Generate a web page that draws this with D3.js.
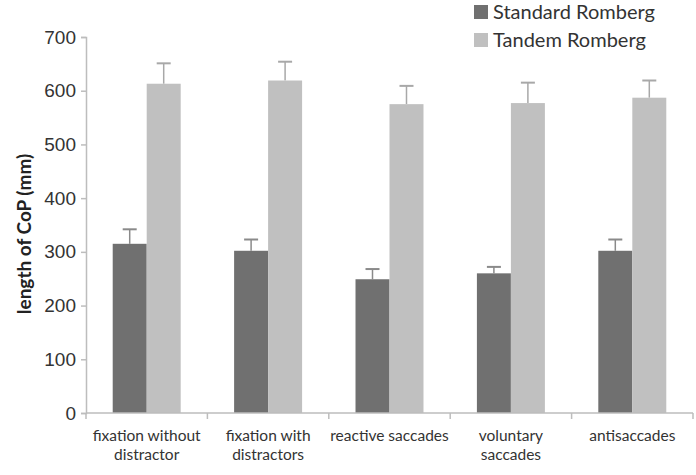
<!DOCTYPE html>
<html>
<head>
<meta charset="utf-8">
<script src="https://cdn.jsdelivr.net/npm/d3@7"></script>
<style>
  body { margin: 0; background: #fff; }
  svg { display: block; font-family: Lato, "Open Sans", sans-serif; }
</style>
</head>
<body>
<div id="chart"></div>
<script>
// categories (label lines) and the two series
var categories = [
    ["fixation without", "distractor"],
    ["fixation with", "distractors"],
    ["reactive saccades"],
    ["voluntary", "saccades"],
    ["antisaccades"]
];
var seriesNames = ["Standard Romberg", "Tandem Romberg"];
var standardValues = [315, 302, 249, 260, 302];
var standardErrors = [27, 21, 19, 12, 21];
var tandemValues = [613, 619, 575, 577, 587];
var tandemErrors = [38, 35, 34, 38, 32];
var yTicks = [0, 100, 200, 300, 400, 500, 600, 700];

var colors = ["#707070", "#c0c0c0"];
var errColors = ["#8a8a8a", "#a8a8a8"];

// set the dimensions and margins of the graph
var width = 696, height = 475;
var margin = { top: 37, right: 3, bottom: 62, left: 86 };

var svg = d3.select("#chart")
    .append("svg")
    .attr("width", width)
    .attr("height", height);

var g = svg.append("g")
    .attr("transform", "translate(" + margin.left + "," + margin.top + ")");

var w = width - margin.left - margin.right,
    h = height - margin.top - margin.bottom;

var idx = d3.range(categories.length);

// X scales
var x0 = d3.scaleBand().domain(idx).range([0, w]).padding(0);
var x1 = d3.scaleBand().domain([0, 1])
    .range([x0.bandwidth() * 0.22, x0.bandwidth() * 0.78]);

// Y scale
var y = d3.scaleLinear().domain([0, 700]).range([h, 0]);

// Y axis
var yAxis = g.append("g")
    .call(d3.axisLeft(y).tickValues(yTicks).tickSize(5).tickPadding(5));
yAxis.select(".domain").attr("stroke", "#bdbdbd").attr("stroke-width", 1.5);
yAxis.selectAll(".tick line").attr("stroke", "#bdbdbd").attr("stroke-width", 1.5);
yAxis.selectAll(".tick text")
    .attr("fill", "#333")
    .style("font-size", "19px");

// bars
var rows = idx.map(function (i) {
    return [
        { s: 0, i: i, v: standardValues[i], e: standardErrors[i] },
        { s: 1, i: i, v: tandemValues[i], e: tandemErrors[i] }
    ];
});

var groups = g.selectAll(".grp")
    .data(rows)
    .enter()
    .append("g")
    .attr("transform", function (d, i) { return "translate(" + x0(i) + ",0)"; });

// error bars (drawn first, bar covers the lower half)
groups.selectAll(".err")
    .data(function (d) { return d; })
    .enter()
    .append("line")
    .attr("x1", function (d) { return x1(d.s) + x1.bandwidth() / 2; })
    .attr("x2", function (d) { return x1(d.s) + x1.bandwidth() / 2; })
    .attr("y1", function (d) { return y(d.v); })
    .attr("y2", function (d) { return y(d.v + d.e); })
    .attr("stroke", function (d) { return errColors[d.s]; })
    .attr("stroke-width", 1.5);

groups.selectAll(".cap")
    .data(function (d) { return d; })
    .enter()
    .append("line")
    .attr("x1", function (d) { return x1(d.s) + x1.bandwidth() / 2 - 7; })
    .attr("x2", function (d) { return x1(d.s) + x1.bandwidth() / 2 + 7; })
    .attr("y1", function (d) { return y(d.v + d.e); })
    .attr("y2", function (d) { return y(d.v + d.e); })
    .attr("stroke", function (d) { return errColors[d.s]; })
    .attr("stroke-width", 2);

groups.selectAll("rect")
    .data(function (d) { return d; })
    .enter()
    .append("rect")
    .attr("x", function (d) { return x1(d.s); })
    .attr("y", function (d) { return y(d.v); })
    .attr("width", x1.bandwidth())
    .attr("height", function (d) { return h - y(d.v); })
    .attr("fill", function (d) { return colors[d.s]; });

// X axis
var xAxis = g.append("g")
    .attr("transform", "translate(0," + h + ")");
xAxis.append("line")
    .attr("x1", 0).attr("x2", w)
    .attr("stroke", "#bdbdbd").attr("stroke-width", 1.5);
xAxis.selectAll(".xt")
    .data(d3.range(categories.length + 1))
    .enter()
    .append("line")
    .attr("x1", function (d) { return d * x0.step(); })
    .attr("x2", function (d) { return d * x0.step(); })
    .attr("y1", 0).attr("y2", 6)
    .attr("stroke", "#bdbdbd").attr("stroke-width", 1.5);

xAxis.selectAll(".xl")
    .data(idx)
    .enter()
    .append("text")
    .attr("x", function (i) { return x0(i) + x0.bandwidth() / 2; })
    .attr("y", 28)
    .attr("text-anchor", "middle")
    .attr("fill", "#333")
    .style("font-size", "15.5px")
    .selectAll("tspan")
    .data(function (i) { return categories[i]; })
    .enter()
    .append("tspan")
    .attr("x", function () { return d3.select(this.parentNode).attr("x"); })
    .attr("dy", function (d, k) { return k === 0 ? 0 : 19; })
    .text(function (d) { return d; });

// Y title
svg.append("text")
    .attr("transform", "translate(31," + (margin.top + h / 2 + 9) + ") rotate(-90)")
    .attr("text-anchor", "middle")
    .attr("fill", "#222")
    .style("font-size", "19px")
    .style("font-weight", "bold")
    .text("length of CoP (mm)");

// legend
var legend = svg.append("g")
    .attr("transform", "translate(474,5)");
var li = legend.selectAll(".li")
    .data(seriesNames)
    .enter()
    .append("g")
    .attr("transform", function (d, i) { return "translate(0," + (i * 28) + ")"; });
li.append("rect")
    .attr("x", 0).attr("y", 0)
    .attr("width", 14).attr("height", 14)
    .attr("fill", function (d, i) { return colors[i]; });
li.append("text")
    .attr("x", 19)
    .attr("y", 14)
    .attr("fill", "#333")
    .style("font-size", "20px")
    .text(function (d) { return d; });
</script>
</body>
</html>
